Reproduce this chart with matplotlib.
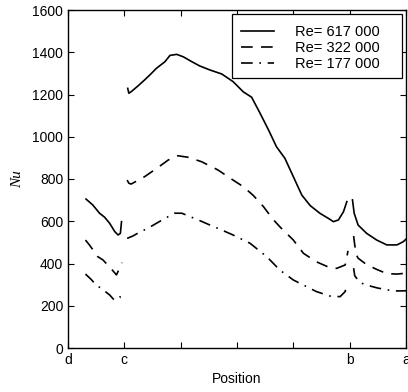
import numpy as np
import matplotlib
matplotlib.use("Agg")
import matplotlib.pyplot as plt
from matplotlib.patches import Rectangle

plt.rcParams['font.family'] = ['Liberation Sans', 'DejaVu Sans']

# Position along the profile (d=0, c=1, b=5, a=6); each curve has three pieces
x_617 = [
    [0.32, 0.44, 0.56, 0.65, 0.74, 0.83, 0.89, 0.93, 0.95],
    [1.06, 1.08, 1.12, 1.24, 1.36, 1.47, 1.57, 1.72, 1.81, 1.93, 2.05, 2.20, 2.34, 2.52,
     2.73, 2.93, 3.11, 3.26, 3.41, 3.56, 3.70, 3.85, 4.00, 4.15, 4.30, 4.47, 4.65, 4.71,
     4.80, 4.89, 4.95],
    [5.05, 5.08, 5.15, 5.30, 5.48, 5.66, 5.84, 5.95, 6.00],
]
nu_617 = [
    [705, 677, 638, 619, 590, 551, 535, 543, 598],
    [1229, 1206, 1213, 1240, 1269, 1297, 1324, 1355, 1385, 1390, 1378, 1355, 1335, 1316,
     1297, 1261, 1213, 1187, 1111, 1032, 953, 898, 811, 724, 674, 638, 609, 598,
     606, 645, 693],
    [701, 638, 582, 543, 511, 488, 488, 503, 515],
]

x_322 = [
    [0.31, 0.38, 0.53, 0.62, 0.76, 0.86, 0.92, 0.96],
    [1.05, 1.08, 1.12, 1.36, 1.60, 1.78, 1.95, 2.13, 2.37, 2.66, 2.93, 3.11, 3.29, 3.47,
     3.64, 3.76, 4.00, 4.18, 4.41, 4.65, 4.77, 4.92, 4.95, 4.97],
    [5.07, 5.09, 5.12, 5.15, 5.30, 5.48, 5.66, 5.84, 6.00],
]
nu_322 = [
    [511, 488, 432, 417, 377, 346, 380, 404],
    [795, 780, 776, 811, 855, 890, 910, 903, 882, 843, 795, 764, 722, 669,
     609, 574, 511, 448, 408, 380, 377, 393, 430, 460],
    [530, 488, 440, 425, 395, 372, 352, 350, 354],
]

x_177 = [
    [0.31, 0.41, 0.50, 0.59, 0.74, 0.82, 0.92, 0.95],
    [1.05, 1.15, 1.27, 1.42, 1.60, 1.78, 1.89, 2.02, 2.34, 2.52, 2.70, 2.93, 3.23, 3.53,
     3.76, 4.00, 4.18, 4.41, 4.65, 4.83, 4.92, 4.95],
    [5.07, 5.09, 5.18, 5.30, 5.48, 5.66, 5.84, 6.00],
]
nu_177 = [
    [350, 325, 298, 282, 251, 227, 238, 270],
    [519, 530, 548, 567, 595, 622, 638, 638, 603, 582, 562, 535, 496, 432,
     369, 322, 298, 267, 246, 243, 267, 303],
    [378, 342, 310, 298, 285, 275, 270, 271],
]

series = [
    ("Re= 617 000", x_617, nu_617, "-"),
    ("Re= 322 000", x_322, nu_322, (0, (7, 5))),
    ("Re= 177 000", x_177, nu_177, (0, (7, 4, 1, 4))),
]

tick_pos = [0, 1, 2, 3, 4, 5, 6]
tick_labels = ["d", "c", "", "", "", "b", "a"]

fig = plt.figure(figsize=(4.08, 3.92), dpi=100)
ax = fig.add_axes([68 / 408, 44 / 392, 338 / 408, 338 / 392])

for label, xs, ys, ls in series:
    for i, (xseg, yseg) in enumerate(zip(xs, ys)):
        ax.plot(xseg, yseg, color="black", lw=1.2, linestyle=ls,
                label=label if i == 0 else None)

ax.set_xlim(0, 6)
ax.set_ylim(0, 1600)
ax.set_xticks(tick_pos)
ax.set_xticklabels(tick_labels)
ax.set_yticks(np.arange(0, 1601, 200))
ax.tick_params(direction="in", top=True, right=True, labelsize=10, length=4, width=0.8)
for s in ax.spines.values():
    s.set_linewidth(1.0)

ax.set_xlabel("Position", fontsize=10, labelpad=4)
ax.set_ylabel("Nu", fontsize=11, family=["Liberation Serif"], style="italic", labelpad=6)

# Legend entries without their own frame, boxed by a fixed rectangle
leg = ax.legend(loc="upper left", bbox_to_anchor=(0.476, 0.989), fontsize=10.5,
                frameon=False, handlelength=2.3, borderpad=0.3,
                labelspacing=0.12, handletextpad=1.4)
frame = Rectangle((0.485, 0.799), 0.503, 0.189, transform=ax.transAxes,
                  facecolor="white", edgecolor="black", lw=0.9, zorder=4)
ax.add_patch(frame)
leg.set_zorder(5)

fig.savefig("out.png", dpi=100)
